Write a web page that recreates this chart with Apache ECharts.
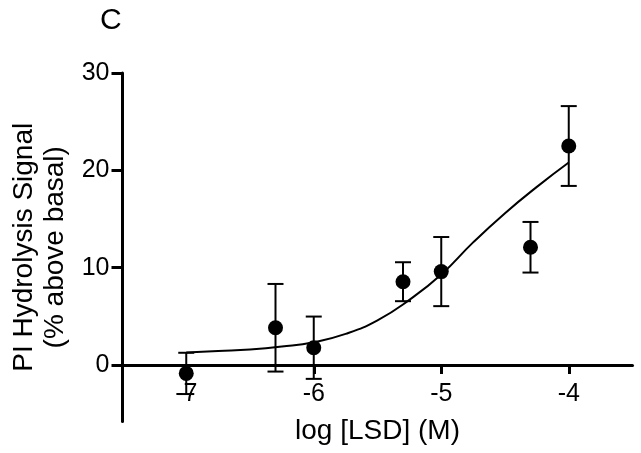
<!DOCTYPE html>
<html>
<head>
<meta charset="utf-8">
<script src="https://cdn.jsdelivr.net/npm/echarts@6/dist/echarts.min.js"></script>
<style>
html,body{margin:0;padding:0;background:#fff;}
#chart{width:641px;height:453px;}
</style>
</head>
<body>
<div id="chart"></div>
<script>
// Data
const xValues = [-7, -6.3, -6, -5.3, -5, -4.3, -4];
const meanValues = [-0.86, 3.83, 1.78, 8.56, 9.6, 12.1, 22.5];
const semValues = [2.12, 4.5, 3.2, 2.0, 3.55, 2.6, 4.1];
const curveX = [-7, -6.75, -6.5, -6.25, -6, -5.75, -5.5, -5.25, -5, -4.75, -4.5, -4.25, -4];
const curveY = [1.3, 1.45, 1.6, 1.9, 2.35, 3.2, 4.6, 6.7, 9.3, 12.6, 15.6, 18.3, 20.8];
const xTicks = [-7, -6, -5, -4];
const yTicks = [0, 10, 20, 30];

const FONT = 'Liberation Sans, Arial, Helvetica, sans-serif';

const errData = xValues.map((x, i) => [x, meanValues[i] - semValues[i], meanValues[i] + semValues[i]]);
const pointData = xValues.map((x, i) => [x, meanValues[i]]);
const curveData = curveX.map((x, i) => [x, curveY[i]]);

const chart = echarts.init(document.getElementById('chart'), null, {renderer: 'canvas'});
chart.setOption({
  animation: false,
  backgroundColor: '#fff',
  textStyle: {fontFamily: FONT, color: '#000'},
  graphic: [{
    type: 'text', left: 100, top: 6,
    style: {text: 'C', font: '30px ' + FONT, fill: '#000'}
  }],
  grid: {left: 122.5, right: 8.5, top: 73, bottom: 31.5, containLabel: false, outerBoundsMode: 'none'},
  xAxis: {
    type: 'value', min: -7.5, max: -3.5,
    axisLine: {onZero: true, lineStyle: {color: '#000', width: 3}},
    axisTick: {show: true, customValues: xTicks, length: 9, lineStyle: {color: '#000', width: 3}},
    axisLabel: {customValues: xTicks, fontSize: 25, color: '#000', margin: -40, fontFamily: FONT},
    splitLine: {show: false},
    name: 'log [LSD] (M)', nameLocation: 'middle', nameGap: -4,
    nameTextStyle: {fontSize: 28, color: '#000', fontFamily: FONT}
  },
  yAxis: {
    type: 'value', min: -5.8, max: 30,
    axisLine: {show: true, lineStyle: {color: '#000', width: 3}},
    axisTick: {show: true, customValues: yTicks, length: 11, lineStyle: {color: '#000', width: 3}},
    axisLabel: {customValues: yTicks, fontSize: 25, color: '#000', margin: 13, fontFamily: FONT},
    splitLine: {show: false},
    name: 'PI Hydrolysis Signal\n(% above basal)', nameLocation: 'middle', nameGap: 52,
    nameTextStyle: {fontSize: 28, lineHeight: 31, color: '#000', fontFamily: FONT}
  },
  series: [
    {
      type: 'custom',
      data: errData,
      encode: {x: 0, y: [1, 2]},
      clip: false,
      z: 2,
      renderItem: function (params, api) {
        const x = api.value(0), lo = api.value(1), hi = api.value(2);
        const pLo = api.coord([x, lo]);
        const pHi = api.coord([x, hi]);
        const hw = 8;
        const st = {stroke: '#000', lineWidth: 2};
        return {
          type: 'group',
          children: [
            {type: 'line', shape: {x1: pHi[0], y1: pHi[1], x2: pLo[0], y2: pLo[1]}, style: st},
            {type: 'line', shape: {x1: pHi[0] - hw, y1: pHi[1], x2: pHi[0] + hw, y2: pHi[1]}, style: st},
            {type: 'line', shape: {x1: pLo[0] - hw, y1: pLo[1], x2: pLo[0] + hw, y2: pLo[1]}, style: st}
          ]
        };
      }
    },
    {
      type: 'line',
      data: curveData,
      smooth: 0.5,
      showSymbol: false,
      z: 3,
      lineStyle: {color: '#000', width: 2}
    },
    {
      type: 'scatter',
      data: pointData,
      symbol: 'circle',
      symbolSize: 15,
      z: 4,
      itemStyle: {color: '#000', opacity: 1}
    }
  ]
});
</script>
</body>
</html>
